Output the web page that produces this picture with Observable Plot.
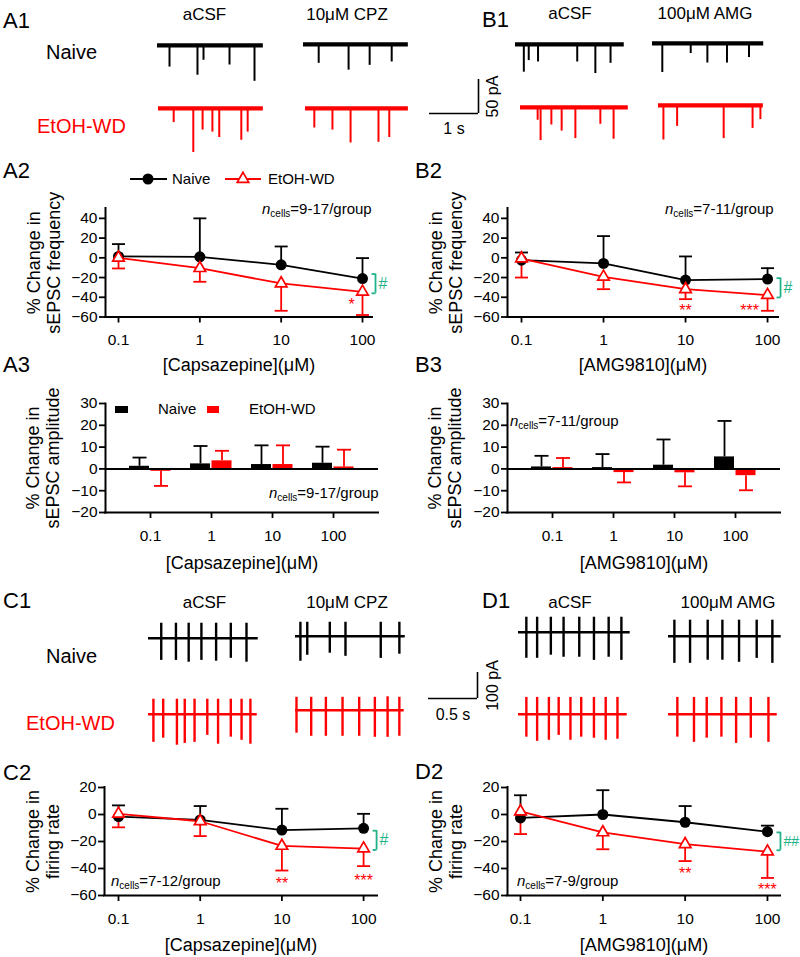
<!DOCTYPE html>
<html><head><meta charset="utf-8">
<script src="https://cdn.jsdelivr.net/npm/d3@7"></script>
<script src="https://cdn.jsdelivr.net/npm/@observablehq/plot@0.6"></script>
<style>
body{margin:0;background:#fff;}
#fig{position:relative;width:800px;height:957px;overflow:hidden;background:#fff;}
</style></head><body><div id="fig"></div>
<script>
// ================= DATA =================
const conc = [0.1, 1, 10, 100];
const concLabels = ["0.1", "1", "10", "100"];

// A2: sEPSC frequency, Capsazepine (% change; mean, SEM)
const A2_naive_mean = [1.4, 1, -7.1, -21];
const A2_naive_sem  = [12.5, 39, 18.6, 20.7];
const A2_etoh_mean  = [0, -10.5, -26, -34.5];
const A2_etoh_sem   = [10.8, 13.8, 27.7, 23.5];
const A2_stars = [{c: 100, y: -43.6, t: "*", dx: -11}];
const A2_bracket = [-16.5, -36];

// B2: sEPSC frequency, AMG9810
const B2_naive_mean = [-2.4, -5.7, -22.6, -21.6];
const B2_naive_sem  = [7.8, 27.7, 24, 11.1];
const B2_etoh_mean  = [-0.7, -19.3, -31.8, -37.8];
const B2_etoh_sem   = [19.3, 12.5, 10.1, 15.9];
const B2_stars = [{c: 10, y: -49.3, t: "**", dx: 0}, {c: 100, y: -49.3, t: "***", dx: -18}];
const B2_bracket = [-20.6, -40.2];

// A3: sEPSC amplitude, Capsazepine
const A3_naive_mean = [1.2, 2.3, 2, 2.6];
const A3_naive_sem  = [4, 8.2, 8.8, 7.6];
const A3_etoh_mean  = [-1.1, 3.7, 2, 0.9];
const A3_etoh_sem   = [6.7, 4.6, 8.8, 7.9];

// B3: sEPSC amplitude, AMG9810
const B3_naive_mean = [0.9, 0.6, 1.7, 5.5];
const B3_naive_sem  = [5.1, 6.2, 11.8, 16.5];
const B3_etoh_mean  = [0.6, -1.7, -1.8, -3.1];
const B3_etoh_sem   = [4.4, 4.5, 6.2, 6.7];

// C2: firing rate, Capsazepine
const C2_naive_mean = [-1.5, -4, -11.5, -10.25];
const C2_naive_sem  = [8.25, 10.25, 15.75, 10.75];
const C2_etoh_mean  = [0.5, -5, -23.25, -25.25];
const C2_etoh_sem   = [10, 11, 18.25, 13];
const C2_stars = [{c: 10, y: -48.3, t: "**", dx: 0}, {c: 100, y: -46, t: "***", dx: 0}];
const C2_bracket = [-12, -26.25];

// D2: firing rate, AMG9810
const D2_naive_mean = [-2.5, 0, -5.75, -12.75];
const D2_naive_sem  = [16.75, 18, 12, 4.5];
const D2_etoh_mean  = [2.25, -13.25, -22, -27.5];
const D2_etoh_sem   = [16.75, 12.5, 12.5, 19.5];
const D2_stars = [{c: 10, y: -40.8, t: "**", dx: 0}, {c: 100, y: -52.8, t: "***", dx: 0}];
const D2_bracket = [-13.25, -26.5];

// sEPSC traces (event time s, amplitude pA, trace duration s)
const A1_naive_aCSF_t = [0.245, 0.816, 0.939, 1.47, 1.98];
const A1_naive_aCSF_amp = [32, 44, 22, 29, 53];
const A1_naive_CPZ_t = [0.31, 0.92, 1.35, 1.8];
const A1_naive_CPZ_amp = [28, 38, 31, 26];
const A1_etoh_aCSF_t = [0.31, 0.71, 0.90, 1.10, 1.24, 1.69, 1.82];
const A1_etoh_aCSF_amp = [21, 65, 32, 35, 43, 47, 35];
const A1_etoh_CPZ_t = [0.18, 0.55, 0.92, 1.49, 1.71];
const A1_etoh_CPZ_amp = [29, 32, 51, 50, 43];
const B1_naive_aCSF_t = [0.17, 0.27, 0.46, 1.26, 1.63, 1.94];
const B1_naive_aCSF_amp = [41, 24, 26, 26, 43, 28];
const B1_naive_AMG_t = [0.2, 0.78, 1.12, 1.52, 1.97];
const B1_naive_AMG_amp = [43, 15, 29, 29, 21];
const B1_etoh_aCSF_t = [0.35, 0.41, 0.63, 0.84, 1.12, 1.63, 1.9];
const B1_etoh_aCSF_amp = [19, 49, 26, 35, 46, 25, 47];
const B1_etoh_AMG_t = [0.1, 0.38, 1.33, 1.92, 2.08];
const B1_etoh_AMG_amp = [51, 31, 49, 34, 21];
const sEPSC_dur = {A1n1: 2.16, A1n2: 2.14, A1e1: 2.14, A1e2: 2.1, B1n1: 2.22, B1n2: 2.27, B1e1: 2.2, B1e2: 2.14};

// Firing traces (spike time s, upward pA, downward pA)
const C1_naive_aCSF_t = [0.13, 0.28, 0.41, 0.54, 0.69, 0.84, 1.0];
const C1_naive_aCSF_up = [58, 58, 58, 58, 58, 58, 58];
const C1_naive_aCSF_dn = [85, 85, 92, 85, 88, 77, 92];
const C1_naive_CPZ_t = [0.05, 0.12, 0.35, 0.51, 0.87, 1.06];
const C1_naive_CPZ_up = [54, 54, 54, 54, 54, 54];
const C1_naive_CPZ_dn = [96, 73, 65, 77, 85, 69];
const C1_etoh_aCSF_t = [0.05, 0.15, 0.29, 0.37, 0.47, 0.60, 0.71, 0.84, 0.95, 1.04];
const C1_etoh_aCSF_up = [58, 58, 58, 58, 58, 58, 58, 58, 58, 58];
const C1_etoh_aCSF_dn = [108, 92, 119, 112, 108, 81, 115, 88, 100, 115];
const C1_etoh_CPZ_t = [0.01, 0.16, 0.31, 0.48, 0.65, 0.81, 0.94, 1.06];
const C1_etoh_CPZ_up = [50, 50, 50, 50, 50, 50, 52, 50];
const C1_etoh_CPZ_dn = [88, 100, 100, 100, 100, 104, 104, 100];
const D1_naive_aCSF_t = [0.08, 0.19, 0.33, 0.46, 0.62, 0.77, 0.92, 1.05];
const D1_naive_aCSF_up = [58, 58, 58, 58, 58, 58, 58, 58];
const D1_naive_aCSF_dn = [100, 100, 88, 96, 96, 108, 96, 108];
const D1_naive_AMG_t = [0.06, 0.22, 0.40, 0.55, 0.72, 0.90, 1.06];
const D1_naive_AMG_up = [62, 62, 62, 62, 62, 62, 62];
const D1_naive_AMG_dn = [104, 104, 92, 92, 100, 85, 104];
const D1_etoh_aCSF_t = [0.08, 0.19, 0.31, 0.41, 0.53, 0.64, 0.77, 0.89, 1.01];
const D1_etoh_aCSF_up = [65, 65, 65, 65, 65, 65, 65, 65, 65];
const D1_etoh_aCSF_dn = [88, 104, 100, 81, 100, 88, 92, 100, 96];
const D1_etoh_AMG_t = [0.09, 0.26, 0.39, 0.54, 0.69, 0.84, 1.02];
const D1_etoh_AMG_up = [65, 65, 65, 65, 65, 65, 65];
const D1_etoh_AMG_dn = [88, 108, 92, 88, 112, 92, 108];
const firing_dur = {C1n1: 1.12, C1n2: 1.12, C1e1: 1.11, C1e2: 1.11, D1n1: 1.14, D1n2: 1.15, D1e1: 1.11, D1e2: 1.11};

// ================= RENDER =================
const FONT = '"Liberation Sans", Arial, Helvetica, sans-serif';
const RED = "#ff0000", GREEN = "#1fb38a", BLACK = "#000000";
const fig = document.getElementById("fig");
function place(node, left, top) {
  node.style.position = "absolute";
  node.style.left = left + "px";
  node.style.top = top + "px";
  fig.appendChild(node);
  return node;
}
const baseStyle = {background: "transparent", overflow: "visible", fontFamily: FONT, fontSize: "15px", color: "black"};
const capSym = {draw(ctx, size) { const r = Math.sqrt(size / Math.PI); ctx.moveTo(-r, 0); ctx.lineTo(r, 0); }};
const halfCapSym = {draw(ctx, size) { const r = Math.sqrt(size / Math.PI); ctx.moveTo(-r, 0); ctx.lineTo(0, 0); }};
const fmtTick = d => (d < 0 ? "\u2212" + Math.abs(d) : String(d));

// ---- traces ----
const SEPSC = {pps: 49, ppa: 0.68, top: 10, bot: -70, baseW: 4.2, spikeW: 2};
const FIRING = {pps: 98, ppa: 0.26, top: 80, bot: -130, baseW: 2.6, spikeW: 2.4};
function trace(ts, dn, up, dur, color, cfg, x0, baseY) {
  const ev = ts.map((t, i) => ({t, lo: -dn[i], hi: up ? up[i] : 0}));
  const w = dur * cfg.pps, h = (cfg.top - cfg.bot) * cfg.ppa;
  const p = Plot.plot({
    width: w, height: h, margin: 0,
    x: {domain: [0, dur], axis: null},
    y: {domain: [cfg.bot, cfg.top], axis: null},
    style: baseStyle,
    marks: [
      Plot.ruleY([0], {stroke: color, strokeWidth: cfg.baseW}),
      Plot.ruleX(ev, {x: "t", y1: "lo", y2: "hi", stroke: color, strokeWidth: cfg.spikeW})
    ]
  });
  place(p, x0, baseY - cfg.top * cfg.ppa);
}
trace(A1_naive_aCSF_t, A1_naive_aCSF_amp, null, sEPSC_dur.A1n1, BLACK, SEPSC, 157, 45);
trace(A1_naive_CPZ_t, A1_naive_CPZ_amp, null, sEPSC_dur.A1n2, BLACK, SEPSC, 303, 44);
trace(A1_etoh_aCSF_t, A1_etoh_aCSF_amp, null, sEPSC_dur.A1e1, RED, SEPSC, 158, 108);
trace(A1_etoh_CPZ_t, A1_etoh_CPZ_amp, null, sEPSC_dur.A1e2, RED, SEPSC, 305, 108);
trace(B1_naive_aCSF_t, B1_naive_aCSF_amp, null, sEPSC_dur.B1n1, BLACK, SEPSC, 515, 44);
trace(B1_naive_AMG_t, B1_naive_AMG_amp, null, sEPSC_dur.B1n2, BLACK, SEPSC, 652, 43);
trace(B1_etoh_aCSF_t, B1_etoh_aCSF_amp, null, sEPSC_dur.B1e1, RED, SEPSC, 520, 107);
trace(B1_etoh_AMG_t, B1_etoh_AMG_amp, null, sEPSC_dur.B1e2, RED, SEPSC, 658, 105);

trace(C1_naive_aCSF_t, C1_naive_aCSF_dn, C1_naive_aCSF_up, firing_dur.C1n1, BLACK, FIRING, 148, 638);
trace(C1_naive_CPZ_t, C1_naive_CPZ_dn, C1_naive_CPZ_up, firing_dur.C1n2, BLACK, FIRING, 295, 636);
trace(C1_etoh_aCSF_t, C1_etoh_aCSF_dn, C1_etoh_aCSF_up, firing_dur.C1e1, RED, FIRING, 148, 714);
trace(C1_etoh_CPZ_t, C1_etoh_CPZ_dn, C1_etoh_CPZ_up, firing_dur.C1e2, RED, FIRING, 295, 710);
trace(D1_naive_aCSF_t, D1_naive_aCSF_dn, D1_naive_aCSF_up, firing_dur.D1n1, BLACK, FIRING, 518, 632);
trace(D1_naive_AMG_t, D1_naive_AMG_dn, D1_naive_AMG_up, firing_dur.D1n2, BLACK, FIRING, 668, 636);
trace(D1_etoh_aCSF_t, D1_etoh_aCSF_dn, D1_etoh_aCSF_up, firing_dur.D1e1, RED, FIRING, 518, 714);
trace(D1_etoh_AMG_t, D1_etoh_AMG_dn, D1_etoh_AMG_up, firing_dur.D1e2, RED, FIRING, 668, 714);

// ---- scale bars ----
function scaleBar(sec, pA, cfg, xLabel, yLabel, x0, yBottom, dyX, dxY) {
  const w = sec * cfg.pps, h = pA * cfg.ppa;
  const p = Plot.plot({
    width: w, height: h, margin: 0,
    x: {domain: [0, sec], axis: null}, y: {domain: [0, pA], axis: null},
    style: baseStyle,
    marks: [
      Plot.ruleY([0], {x1: 0, x2: sec, strokeWidth: 1.6}),
      Plot.ruleX([sec], {y1: 0, y2: pA, strokeWidth: 1.6}),
      Plot.text([xLabel], {frameAnchor: "bottom", lineAnchor: "middle", textAnchor: "middle", dy: dyX, fontSize: 16}),
      Plot.text([yLabel], {frameAnchor: "right", lineAnchor: "middle", textAnchor: "middle", rotate: -90, dx: dxY, fontSize: 16})
    ]
  });
  place(p, x0, yBottom - h);
}
scaleBar(1, 50, SEPSC, "1 s", "50 pA", 429, 113, 15, 14);
scaleBar(0.5, 100, FIRING, "0.5 s", "100 pA", 428, 698, 16, 15);

// ---- line charts ----
function lineChart(o) {
  const mL = o.fx0 - o.panelLeft, mR = o.panelLeft + 400 - o.fx1, mT = 12, mB = 62;
  const nRows = conc.map((c, i) => ({c, m: o.nm[i], e: o.nm[i] + o.ns[i]}));
  const eRows = conc.map((c, i) => ({c, m: o.em[i], e: o.em[i] - o.es[i]}));
  const [xd0, xd1] = o.xDomain, [yd0, yd1] = o.yDomain;
  const br = o.bracket;
  const marks = [
    Plot.ruleY([yd0], {x1: xd0, x2: xd1, strokeWidth: 2, strokeLinecap: "square"}),
    Plot.ruleX([xd0], {y1: yd0, y2: yd1, strokeWidth: 2, strokeLinecap: "square"}),
    Plot.axisX({ticks: conc, tickFormat: d => String(d), tickSize: 6, tickPadding: 11, strokeWidth: 1.8, fontSize: 15.5, label: null}),
    Plot.axisY({ticks: o.yTicks, tickFormat: fmtTick, tickSize: 6, tickPadding: 2, strokeWidth: 1.8, fontSize: 15.5, label: null}),
    Plot.text([o.ylabel], {frameAnchor: "left", textAnchor: "middle", lineAnchor: "middle", rotate: -90, dx: -62, fontSize: 18, lineHeight: 1.1}),
    Plot.text([o.xlabel], {frameAnchor: "bottom", textAnchor: "middle", lineAnchor: "middle", dy: o.xlabDy, fontSize: 18}),
    // naive
    Plot.line(nRows, {x: "c", y: "m", stroke: BLACK, strokeWidth: 1.8}),
    Plot.ruleX(nRows, {x: "c", y1: "m", y2: "e", stroke: BLACK, strokeWidth: 1.8}),
    Plot.dot(nRows, {x: "c", y: "e", symbol: capSym, r: 6.5, stroke: BLACK, fill: "none", strokeWidth: 1.8}),
    // EtOH-WD
    Plot.line(eRows, {x: "c", y: "m", stroke: RED, strokeWidth: 1.8}),
    Plot.ruleX(eRows, {x: "c", y1: "m", y2: "e", stroke: RED, strokeWidth: 1.8}),
    Plot.dot(eRows, {x: "c", y: "e", symbol: capSym, r: 6.5, stroke: RED, fill: "none", strokeWidth: 1.8}),
    Plot.dot(nRows, {x: "c", y: "m", r: 5.5, fill: BLACK, stroke: "none"}),
    Plot.dot(eRows, {x: "c", y: "m", symbol: "triangle", r: 4.3, fill: "white", stroke: RED, strokeWidth: 1.7}),
    // significance bracket
    Plot.ruleX([{c: 100, y1: br[0], y2: br[1]}], {x: "c", y1: "y1", y2: "y2", dx: 13, stroke: GREEN, strokeWidth: 1.8}),
    Plot.dot([{c: 100, y: br[0]}, {c: 100, y: br[1]}], {x: "c", y: "y", symbol: halfCapSym, r: 4, dx: 13, stroke: GREEN, fill: "none", strokeWidth: 1.8}),
    Plot.text([{c: 100, y: (br[0] + br[1]) / 2}], {x: "c", y: "y", text: () => o.hash, dx: 16, textAnchor: "start", fill: GREEN, fontSize: o.hash.length > 1 ? 14 : 16})
  ];
  for (const s of o.stars) {
    marks.push(Plot.text([s], {x: "c", y: "y", text: "t", dx: s.dx, dy: 4, fill: RED, fontSize: 16, textAnchor: "middle"}));
  }
  const p = Plot.plot({
    width: 400, height: (o.fy1 - o.fy0) + mT + mB,
    marginLeft: mL, marginRight: mR, marginTop: mT, marginBottom: mB,
    x: {type: "log", domain: o.xDomain},
    y: {domain: o.yDomain},
    style: baseStyle,
    marks
  });
  place(p, o.panelLeft, o.fy0 - mT);
}

lineChart({panelLeft: 0, fx0: 105, fx1: 372, fy0: 207.5, fy1: 316, xDomain: [0.0692, 132.7], yDomain: [-60, 50], yTicks: [-60, -40, -20, 0, 20, 40],
  nm: A2_naive_mean, ns: A2_naive_sem, em: A2_etoh_mean, es: A2_etoh_sem, stars: A2_stars, bracket: A2_bracket, hash: "#",
  ylabel: "% Change in\nsEPSC frequency", xlabel: "[Capsazepine](μM)", xlabDy: 48});
lineChart({panelLeft: 400, fx0: 507, fx1: 778, fy0: 207.5, fy1: 316, xDomain: [0.0675, 136], yDomain: [-60, 50], yTicks: [-60, -40, -20, 0, 20, 40],
  nm: B2_naive_mean, ns: B2_naive_sem, em: B2_etoh_mean, es: B2_etoh_sem, stars: B2_stars, bracket: B2_bracket, hash: "#",
  ylabel: "% Change in\nsEPSC frequency", xlabel: "[AMG9810](μM)", xlabDy: 48});
lineChart({panelLeft: 0, fx0: 104, fx1: 377, fy0: 787, fy1: 895, xDomain: [0.0674, 148], yDomain: [-60, 20], yTicks: [-60, -40, -20, 0, 20],
  nm: C2_naive_mean, ns: C2_naive_sem, em: C2_etoh_mean, es: C2_etoh_sem, stars: C2_stars, bracket: C2_bracket, hash: "#",
  ylabel: "% Change in\nfiring rate", xlabel: "[Capsazepine](μM)", xlabDy: 50});
lineChart({panelLeft: 400, fx0: 507, fx1: 780, fy0: 787, fy1: 895, xDomain: [0.0695, 144], yDomain: [-60, 20], yTicks: [-60, -40, -20, 0, 20],
  nm: D2_naive_mean, ns: D2_naive_sem, em: D2_etoh_mean, es: D2_etoh_sem, stars: D2_stars, bracket: D2_bracket, hash: "##",
  ylabel: "% Change in\nfiring rate", xlabel: "[AMG9810](μM)", xlabDy: 50});

// ---- bar charts ----
function barChart(o) {
  const mL = o.fx0 - o.panelLeft, mR = o.panelLeft + 400 - o.fx1, mT = 12, mB = 62;
  const sgn = v => (v < 0 ? -1 : 1);
  const nRows = concLabels.map((c, i) => ({c, m: o.nm[i], e: o.nm[i] + sgn(o.nm[i]) * o.ns[i]}));
  const eRows = concLabels.map((c, i) => ({c, m: o.em[i], e: o.em[i] + sgn(o.em[i]) * o.es[i]}));
  const [yd0] = o.yDomain;
  const dN = -11, dE = 10.5;
  const p = Plot.plot({
    width: 400, height: (o.fy1 - o.fy0) + mT + mB,
    marginLeft: mL, marginRight: mR, marginTop: mT, marginBottom: mB,
    x: {type: "band", domain: concLabels, paddingInner: 0.67, paddingOuter: 0.57},
    y: {domain: o.yDomain},
    style: baseStyle,
    marks: [
      Plot.ruleY([yd0], {strokeWidth: 2, strokeLinecap: "square"}),
      Plot.frame({anchor: "left", strokeWidth: 2}),
      Plot.axisX({tickSize: 6, tickPadding: 11, strokeWidth: 1.8, fontSize: 15.5, label: null}),
      Plot.axisY({ticks: o.yTicks, tickFormat: fmtTick, tickSize: 6, tickPadding: 2, strokeWidth: 1.8, fontSize: 15.5, label: null}),
      Plot.text([o.ylabel], {frameAnchor: "left", textAnchor: "middle", lineAnchor: "middle", rotate: -90, dx: -63, fontSize: 18, lineHeight: 1.1}),
      Plot.text([o.xlabel], {frameAnchor: "bottom", textAnchor: "middle", lineAnchor: "middle", dy: o.xlabDy, fontSize: 18}),
      Plot.ruleX(nRows, {x: "c", y1: "m", y2: "e", dx: dN, stroke: BLACK, strokeWidth: 1.8}),
      Plot.dot(nRows, {x: "c", y: "e", symbol: capSym, r: 7, dx: dN, stroke: BLACK, fill: "none", strokeWidth: 1.8}),
      Plot.ruleX(eRows, {x: "c", y1: "m", y2: "e", dx: dE, stroke: RED, strokeWidth: 1.8}),
      Plot.dot(eRows, {x: "c", y: "e", symbol: capSym, r: 7, dx: dE, stroke: RED, fill: "none", strokeWidth: 1.8}),
      Plot.barY(nRows, {x: "c", y: "m", fill: BLACK, dx: dN}),
      Plot.barY(eRows, {x: "c", y: "m", fill: RED, dx: dE}),
      Plot.ruleY([0], {strokeWidth: 2})
    ]
  });
  place(p, o.panelLeft, o.fy0 - mT);
}
barChart({panelLeft: 0, fx0: 105, fx1: 378, fy0: 403, fy1: 512, yDomain: [-20, 30], yTicks: [-20, -10, 0, 10, 20, 30],
  nm: A3_naive_mean, ns: A3_naive_sem, em: A3_etoh_mean, es: A3_etoh_sem,
  ylabel: "% Change in\nsEPSC amplitude", xlabel: "[Capsazepine](μM)", xlabDy: 51});
barChart({panelLeft: 400, fx0: 507, fx1: 780, fy0: 403, fy1: 512, yDomain: [-20, 30], yTicks: [-20, -10, 0, 10, 20, 30],
  nm: B3_naive_mean, ns: B3_naive_sem, em: B3_etoh_mean, es: B3_etoh_sem,
  ylabel: "% Change in\nsEPSC amplitude", xlabel: "[AMG9810](μM)", xlabDy: 51});

// ---- text overlay (panel letters, titles, legends, n annotations) ----
const ov = d3.create("svg").attr("width", 800).attr("height", 957).attr("font-family", FONT)
  .style("position", "absolute").style("left", "0px").style("top", "0px").style("overflow", "visible").style("pointer-events", "none");
function label(x, y, s, size, anchor = "start", fill = BLACK) {
  ov.append("text").attr("x", x).attr("y", y).attr("font-size", size).attr("text-anchor", anchor).attr("fill", fill).text(s);
}
function ncells(x, y, rest) {
  const t = ov.append("text").attr("x", x).attr("y", y).attr("font-size", 15).attr("fill", BLACK);
  t.append("tspan").attr("font-style", "italic").text("n");
  t.append("tspan").attr("font-size", 10).attr("dy", 3).text("cells");
  t.append("tspan").attr("dy", -3).text(rest);
}
// panel letters
[["A1", 3, 28], ["B1", 482, 27], ["A2", 3, 178], ["B2", 415, 178], ["A3", 3, 372], ["B3", 415, 372],
 ["C1", 3, 608], ["D1", 482, 608], ["C2", 3, 780], ["D2", 415, 779]].forEach(([s, x, y]) => label(x, y, s, 22));
// trace titles
label(204.5, 20, "aCSF", 17, "middle"); label(347, 20, "10μM CPZ", 17, "middle");
label(570, 19, "aCSF", 17, "middle"); label(705, 19, "100μM AMG", 17, "middle");
label(204.5, 608, "aCSF", 17, "middle"); label(347, 608, "10μM CPZ", 17, "middle");
label(570, 608, "aCSF", 17, "middle"); label(728, 608, "100μM AMG", 17, "middle");
// row labels
label(46, 59, "Naive", 20); label(37, 133, "EtOH-WD", 20, "start", RED);
label(46, 663, "Naive", 20); label(26, 730, "EtOH-WD", 20, "start", RED);
// A2 legend
ov.append("line").attr("x1", 130).attr("x2", 167).attr("y1", 179).attr("y2", 179).attr("stroke", BLACK).attr("stroke-width", 1.8);
ov.append("circle").attr("cx", 148).attr("cy", 179).attr("r", 5.5).attr("fill", BLACK);
label(172, 184, "Naive", 15);
ov.append("line").attr("x1", 225).attr("x2", 261).attr("y1", 179).attr("y2", 179).attr("stroke", RED).attr("stroke-width", 1.8);
ov.append("path").attr("d", d3.symbol(d3.symbolTriangle, 4.3 * 4.3 * Math.PI)()).attr("transform", "translate(243,179)")
  .attr("fill", "white").attr("stroke", RED).attr("stroke-width", 1.7);
label(268, 184, "EtOH-WD", 15);
// A3 legend
ov.append("rect").attr("x", 115).attr("y", 406).attr("width", 13).attr("height", 7).attr("fill", BLACK);
label(158, 414, "Naive", 15);
ov.append("rect").attr("x", 207).attr("y", 406).attr("width", 12).attr("height", 7).attr("fill", RED);
label(249, 414, "EtOH-WD", 15);
// n annotations
ncells(262, 214, "=9-17/group");
ncells(665, 214, "=7-11/group");
ncells(269, 498, "=9-17/group");
ncells(510, 426, "=7-11/group");
ncells(111, 886, "=7-12/group");
ncells(517, 886, "=7-9/group");
fig.appendChild(ov.node());
</script>
</body></html>
